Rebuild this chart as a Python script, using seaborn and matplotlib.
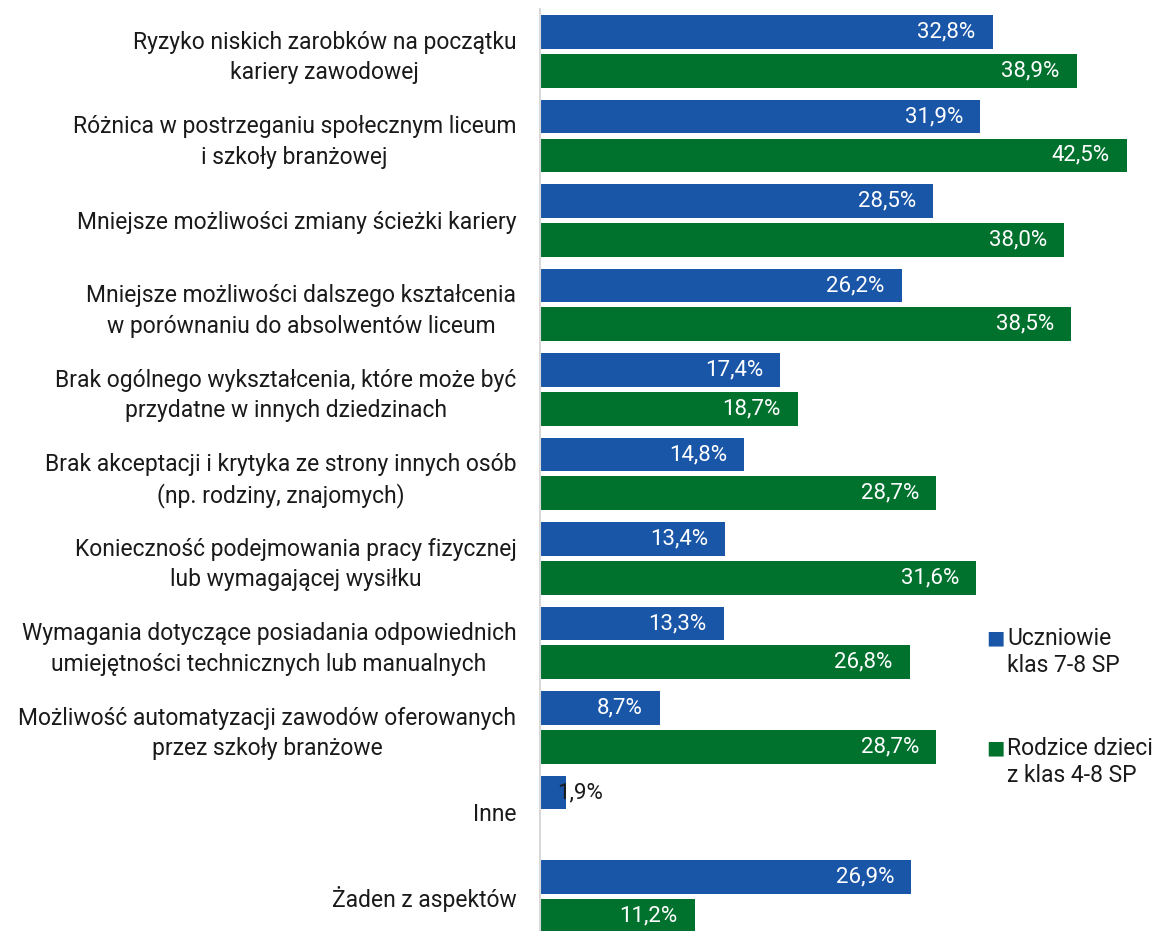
import numpy as np
import pandas as pd
import matplotlib.pyplot as plt
import seaborn as sns

categories = [
    "Ryzyko niskich zarobków na początku\nkariery zawodowej",
    "Różnica w postrzeganiu społecznym liceum\ni szkoły branżowej",
    "Mniejsze możliwości zmiany ścieżki kariery",
    "Mniejsze możliwości dalszego kształcenia\nw porównaniu do absolwentów liceum",
    "Brak ogólnego wykształcenia, które może być\nprzydatne w innych dziedzinach",
    "Brak akceptacji i krytyka ze strony innych osób\n(np. rodziny, znajomych)",
    "Konieczność podejmowania pracy fizycznej\nlub wymagającej wysiłku",
    "Wymagania dotyczące posiadania odpowiednich\numiejętności technicznych lub manualnych",
    "Możliwość automatyzacji zawodów oferowanych\nprzez szkoły branżowe",
    "Inne",
    "Żaden z aspektów",
]
uczniowie = [32.8, 31.9, 28.5, 26.2, 17.4, 14.8, 13.4, 13.3, 8.7, 1.9, 26.9]
rodzice = [38.9, 42.5, 38.0, 38.5, 18.7, 28.7, 31.6, 26.8, 28.7, np.nan, 11.2]
series_names = ["Uczniowie\nklas 7-8 SP", "Rodzice dzieci\nz klas 4-8 SP"]
colors = ["#1a56a8", "#00722e"]

sns.set_theme(style="white")
plt.rcParams['font.family'] = ['Roboto', 'DejaVu Sans']

df = pd.DataFrame({
    "kategoria": categories * 2,
    "wartosc": uczniowie + rodzice,
    "grupa": [series_names[0]] * len(categories) + [series_names[1]] * len(categories),
})

fig = plt.figure(figsize=(11.59, 9.31), dpi=100)
ax = fig.add_axes([540 / 1159, 0, 619 / 1159, 922 / 931])

sns.barplot(data=df, y="kategoria", x="wartosc", hue="grupa", orient="h",
            palette=colors, saturation=1, width=0.92, gap=0.13, linewidth=0,
            legend=False, ax=ax)

ax.set_xlim(0, 619 / 13.8)
ax.set_ylim(10.41, -0.503)
ax.set_xlabel("")
ax.set_ylabel("")
ax.set_xticks([])
ax.tick_params(axis="y", length=0, pad=17, labelsize=16.5)
for lab in ax.get_yticklabels():
    lab.set_multialignment("center")
    lab.set_linespacing(1.4)
    lab.set_color("#1a1a1a")

for side in ["top", "right", "bottom"]:
    ax.spines[side].set_visible(False)
ax.spines["left"].set_color("#d9d9d9")
ax.spines["left"].set_linewidth(1.5)

# value labels
for cont in ax.containers:
    for bar in cont:
        w = bar.get_width()
        if np.isnan(w) or w == 0:
            continue
        yc = bar.get_y() + bar.get_height() / 2
        txt = f"{w:.1f}".replace(".", ",") + "%"
        if w < 4:
            ax.annotate(txt, (w, yc), xytext=(-9, 0), textcoords="offset pixels",
                        ha="left", va="center", fontsize=16, color="#1a1a1a")
        else:
            ax.annotate(txt, (w, yc), xytext=(-17, 0), textcoords="offset pixels",
                        ha="right", va="center", fontsize=16, color="white")

# legend drawn by hand so the square sits next to the first line
# (y = baseline of the first line, in pixels from the top)
leg_y = [645, 755]
for name, col, yp in zip(series_names, colors, leg_y):
    fig.text(986 / 1159, 1 - (yp - 7) / 931, "■", color=col, fontsize=14,
             va="center", ha="left", family="DejaVu Sans")
    fig.text(1007 / 1159, 1 - (yp + 27) / 931, name, fontsize=16.5,
             va="baseline", ha="left", linespacing=1.22, color="#1a1a1a")

fig.savefig("out.png", dpi=100)
